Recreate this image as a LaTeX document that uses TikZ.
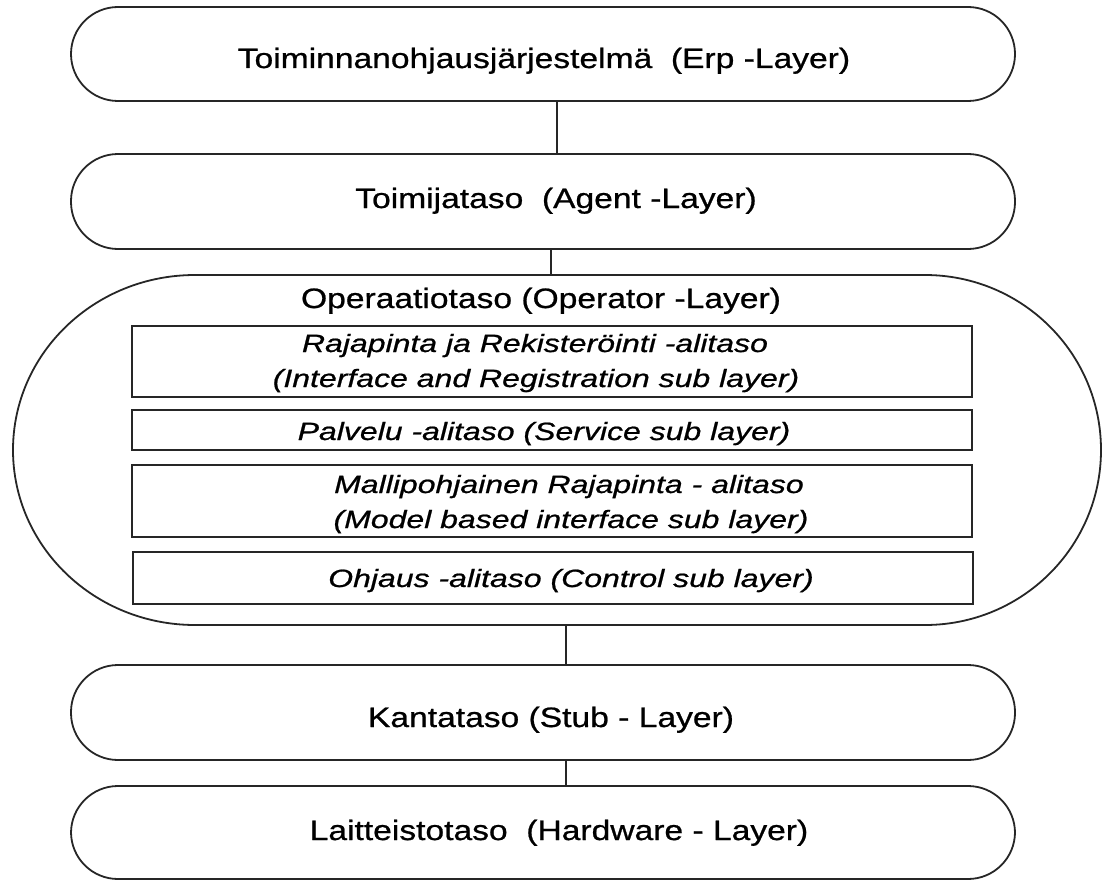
\documentclass[tikz,border=0pt]{standalone}
\usepackage{fontspec}
\setmainfont{Liberation Sans}
\newfontfamily\layerfont{Liberation Sans}[FakeStretch=1.2,FakeBold=0.8]
\newfontfamily\subfont{Liberation Sans}[FakeStretch=1.28,FakeBold=0.8]
\begin{document}
\begin{tikzpicture}[x=1pt,y=-1pt,
  edge/.style={draw=black!85, line width=1.8pt},
  pill/.style={edge, rounded corners=47pt, minimum width=944pt, inner sep=0pt},
  subbox/.style={edge, minimum width=840pt, inner sep=0pt},
  head/.style={anchor=base, inner sep=0pt, font=\layerfont\fontsize{28}{34}\selectfont},
  sub/.style={anchor=base, inner sep=0pt, font=\subfont\itshape\fontsize{25}{30}\selectfont}]
\useasboundingbox (0,0) rectangle (1102,880);

% main layers
\node[pill, minimum height=94pt] (erp)   at (543,54)    {};
\node[pill, minimum height=95pt] (agent) at (543,201.5) {};
\node[pill, minimum height=95pt] (stub)  at (543,712.5) {};
\node[pill, minimum height=93pt] (hw)    at (543,832.5) {};

% operator layer outline
\draw[edge] (195,275) -- (925,275)
  arc[start angle=90, end angle=-90, x radius=176pt, y radius=175pt]
  -- (195,625)
  arc[start angle=270, end angle=90, x radius=182pt, y radius=175pt] -- cycle;
\coordinate (optop) at (551,275);
\coordinate (opbot) at (566,625);

% sub layers
\node[subbox, minimum height=71pt] (r1) at (552,361.5) {};
\node[subbox, minimum height=40pt] (r2) at (552,430)   {};
\node[subbox, minimum height=72pt] (r3) at (552,501)   {};
\node[subbox, minimum height=52pt] (r4) at (553,578)   {};

% connectors
\draw[edge] ([xshift=14pt]erp.south) -- ([xshift=14pt]agent.north);
\draw[edge] ([xshift=8pt]agent.south) -- (optop);
\draw[edge] (opbot) -- ([xshift=23pt]stub.north);
\draw[edge] ([xshift=23pt]stub.south) -- ([xshift=23pt]hw.north);

% labels
\node[head] (terp)   at (544,68)  {Toiminnanohjausjärjestelmä~\ (Erp -Layer)};
\node[head] (tagent) at (556,208) {Toimijataso~\ (Agent -Layer)};
\node[head] (toper)  at (541,308) {Operaatiotaso (Operator -Layer)};
\node[head] (tstub)  at (551,727) {Kantataso (Stub - Layer)};
\node[head] (thw)    at (559,840) {Laitteistotaso~\ (Hardware - Layer)};

\node[sub] (t1a) at (535,352) {Rajapinta ja Rekisteröinti -alitaso};
\node[sub] (t1b) at (536,387) {(Interface and Registration sub layer)};
\node[sub] (t2)  at (544,440) {Palvelu -alitaso (Service sub layer)};
\node[sub] (t3a) at (569,493) {Mallipohjainen Rajapinta - alitaso};
\node[sub] (t3b) at (571,528) {(Model based interface sub layer)};
\node[sub] (t4)  at (571,587) {Ohjaus -alitaso (Control sub layer)};
\end{tikzpicture}
\end{document}
